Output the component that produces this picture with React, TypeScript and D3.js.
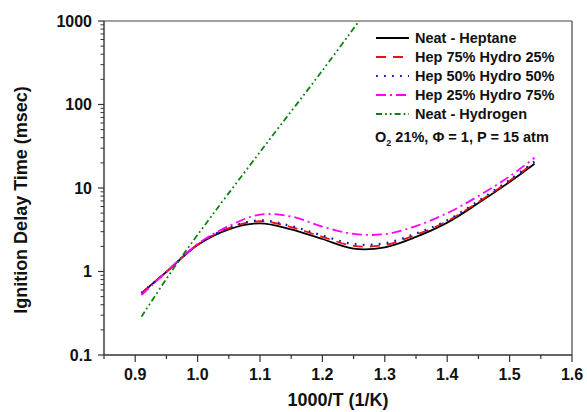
import React from "react";
import * as d3 from "d3";

const xs = [0.91, 0.95, 1.0, 1.05, 1.1, 1.15, 1.2, 1.25, 1.3, 1.35, 1.4, 1.45, 1.5, 1.54];
const neatHeptane = [0.55, 0.99, 2.08, 3.2, 3.78, 3.2, 2.45, 1.88, 1.95, 2.6, 3.85, 6.6, 11.8, 19.5];
const hep75 = [0.55, 0.99, 2.1, 3.3, 4.0, 3.4, 2.6, 2.03, 2.08, 2.75, 4.0, 6.8, 12.2, 20.3];
const hep50 = [0.55, 0.99, 2.1, 3.35, 4.1, 3.5, 2.7, 2.13, 2.18, 2.85, 4.1, 7.0, 12.5, 20.8];
const hep25 = [0.52, 0.99, 2.13, 3.5, 4.8, 4.55, 3.45, 2.82, 2.8, 3.5, 5.0, 8.0, 13.8, 23];
const h2x = [0.91, 0.96, 1.0, 1.1, 1.2, 1.27];
const neatHydrogen = [0.288, 1.05, 2.75, 27, 255, 1300];

const xTicks = [0.9, 1.0, 1.1, 1.2, 1.3, 1.4, 1.5, 1.6];
const yTicks = [0.1, 1, 10, 100, 1000];

const seriesNames = [
  "Neat - Heptane",
  "Hep 75% Hydro 25%",
  "Hep 50% Hydro 50%",
  "Hep 25% Hydro 75%",
  "Neat - Hydrogen",
];

const W = 587, H = 412;
const L = 104, R = 572, T = 21, B = 355;

export default function App() {
  const x = d3.scaleLinear().domain([0.85, 1.6]).range([L, R]);
  const y = d3.scaleLog().domain([0.1, 1000]).range([B, T]);
  const line = d3
    .line<[number, number]>()
    .x((d) => x(d[0]))
    .y((d) => y(d[1]))
    .curve(d3.curveCatmullRom.alpha(0.5));

  const styles = [
    { color: "#000000", dash: "none", w: 1.8 },
    { color: "#ee1111", dash: "10,7", w: 1.8 },
    { color: "#1a1ab8", dash: "1.8,6.2", w: 2.2 },
    { color: "#ff00ff", dash: "10,4,2,4", w: 1.8 },
    { color: "#108010", dash: "6,3,1.8,3,1.8,3", w: 1.8 },
  ];
  const data: [number, number][][] = [
    xs.map((v, i) => [v, neatHeptane[i]]),
    xs.map((v, i) => [v, hep75[i]]),
    xs.map((v, i) => [v, hep50[i]]),
    xs.map((v, i) => [v, hep25[i]]),
    h2x.map((v, i) => [v, neatHydrogen[i]]),
  ];

  const minorX = d3.range(0.85, 1.6001, 0.05).map((v) => +v.toFixed(2));
  const minorY: number[] = [];
  for (let e = -1; e < 3; e++) for (let k = 2; k <= 9; k++) minorY.push(k * Math.pow(10, e));

  const font = "Liberation Sans, Arial, sans-serif";
  const legX1 = 376, legX2 = 409, legTx = 415;
  const legY = [38, 57, 76, 95, 114];

  return (
    <svg width={W} height={H} style={{ position: "absolute", left: 0, top: 0, background: "#fff" }} fontFamily={font}>
      <defs>
        <clipPath id="plot">
          <rect x={L} y={T} width={R - L} height={B - T} />
        </clipPath>
      </defs>
      {/* frame */}
      <line x1={L} y1={T} x2={R} y2={T} stroke="#444" strokeWidth={1.2} />
      <line x1={R} y1={T} x2={R} y2={B} stroke="#444" strokeWidth={1.2} />
      <line x1={L} y1={T} x2={L} y2={B} stroke="#333" strokeWidth={1.4} />
      <line x1={L} y1={B} x2={R} y2={B} stroke="#333" strokeWidth={1.4} />
      {/* x ticks */}
      {minorX.map((v) => {
        const major = Math.abs(v * 10 - Math.round(v * 10)) < 1e-6;
        return <line key={"xt" + v} x1={x(v)} x2={x(v)} y1={B} y2={B + (major ? 7 : 4)} stroke="#333" strokeWidth={1.2} />;
      })}
      {xTicks.map((v) => (
        <text key={"xl" + v} x={x(v)} y={380} textAnchor="middle" fontSize={16} fontWeight="bold" fill="#111">
          {v.toFixed(1)}
        </text>
      ))}
      {/* y ticks */}
      {minorY.map((v) => (
        <line key={"ym" + v} x1={L - 3.5} x2={L} y1={y(v)} y2={y(v)} stroke="#333" strokeWidth={1} />
      ))}
      {yTicks.map((v) => (
        <g key={"yt" + v}>
          <line x1={L - 6} x2={L} y1={y(v)} y2={y(v)} stroke="#333" strokeWidth={1.2} />
          <text x={92} y={y(v)} dy="0.36em" textAnchor="end" fontSize={16} fontWeight="bold" fill="#111">
            {String(v)}
          </text>
        </g>
      ))}
      {/* axis titles */}
      <text x={338} y={406} textAnchor="middle" fontSize={18} fontWeight="bold" fill="#111">
        1000/T (1/K)
      </text>
      <text transform="translate(27,200) rotate(-90)" textAnchor="middle" fontSize={18} fontWeight="bold" fill="#111">
        Ignition Delay Time (msec)
      </text>
      {/* series */}
      <g clipPath="url(#plot)">
        {data.map((d, i) => (
          <path
            key={"s" + i}
            d={line(d) || ""}
            fill="none"
            stroke={styles[i].color}
            strokeWidth={styles[i].w}
            strokeDasharray={styles[i].dash}
          />
        ))}
      </g>
      {/* legend */}
      {seriesNames.map((n, i) => (
        <g key={"lg" + i}>
          <line x1={legX1} x2={legX2} y1={legY[i]} y2={legY[i]} stroke={styles[i].color} strokeWidth={styles[i].w} strokeDasharray={styles[i].dash} />
          <text x={legTx} y={legY[i]} dy="0.36em" fontSize={14.5} fontWeight="bold" fill="#111">
            {n}
          </text>
        </g>
      ))}
      <text x={375} y={142} fontSize={14.5} fontWeight="bold" fill="#111">
        O<tspan fontSize={9} dy={4}>2</tspan>
        <tspan dy={-4}> 21%, Φ = 1, P = 15 atm</tspan>
      </text>
    </svg>
  );
}
